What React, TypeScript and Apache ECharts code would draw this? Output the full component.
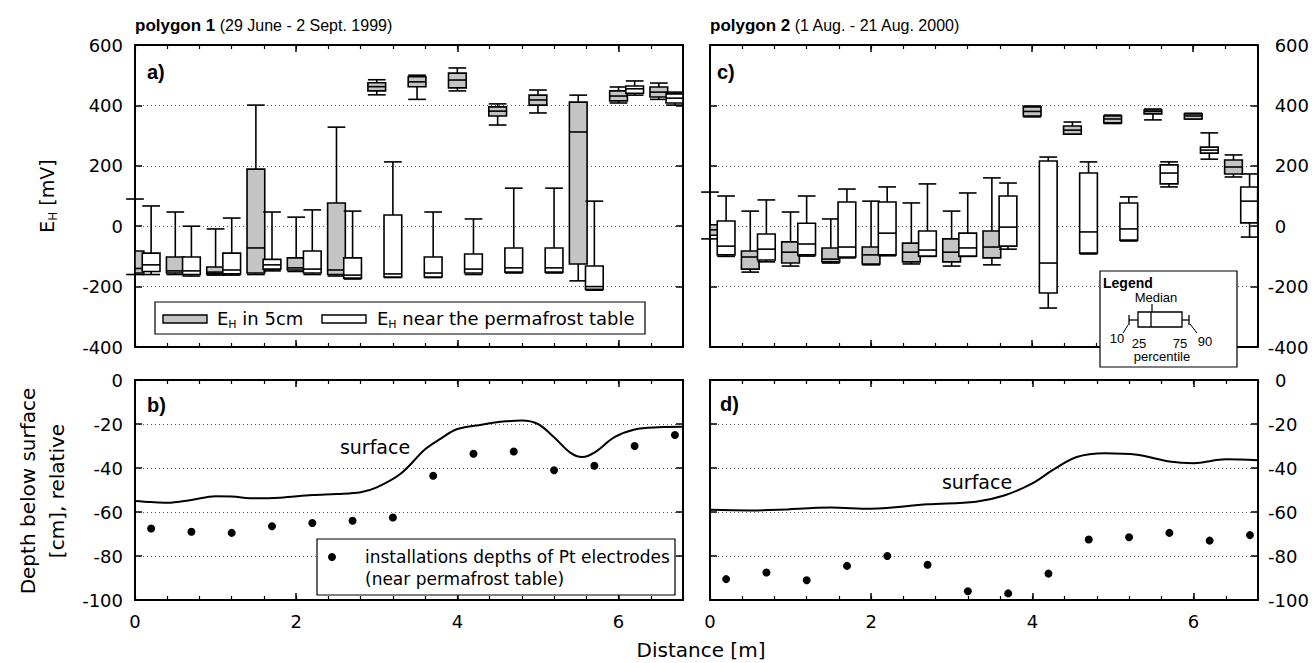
import React, { useEffect, useRef } from 'react';
import * as echarts from 'echarts';

const SANS = '"DejaVu Sans", sans-serif';
const ARIAL = '"Liberation Sans", Arial, sans-serif';

// ---------- Panel a: polygon 1, E_H (mV) boxes: 10 / 25 / 50 / 75 / 90 percentiles ----------
const aShallowPos = [0, 0.5, 1.0, 1.5, 2.0, 2.5, 3.0, 3.5, 4.0, 4.5, 5.0, 5.5, 6.0, 6.5];
const aShallowP10 = [-160, -160, -162, -160, -150, -165, 435, 420, 448, 335, 375, -181, 408, 420];
const aShallowP25 = [-155, -155, -158, -155, -145, -160, 448, 462, 458, 365, 401, -125, 415, 428];
const aShallowP50 = [-140, -148, -152, -72, -138, -145, 462, 478, 484, 381, 418, 312, 431, 444];
const aShallowP75 = [-82, -102, -135, 189, -105, 77, 475, 495, 507, 395, 434, 411, 448, 461];
const aShallowP90 = [90, 47, -9, 401, 30, 328, 485, 500, 524, 405, 451, 434, 461, 474];

const aDeepPos = [0.2, 0.7, 1.2, 1.7, 2.2, 2.7, 3.2, 3.7, 4.2, 4.7, 5.2, 5.7, 6.2, 6.7];
const aDeepP10 = [-160, -165, -162, -148, -160, -175, -170, -170, -160, -155, -155, -212, 434, 401];
const aDeepP25 = [-150, -160, -158, -142, -155, -172, -168, -168, -155, -152, -152, -209, 440, 408];
const aDeepP50 = [-128, -148, -145, -128, -142, -162, -158, -155, -142, -138, -138, -200, 455, 424];
const aDeepP75 = [-89, -102, -89, -110, -82, -105, 37, -102, -92, -72, -72, -132, 464, 438];
const aDeepP90 = [67, 0, 27, 47, 54, 50, 213, 47, 24, 126, 126, 83, 481, 444];

// ---------- Panel c: polygon 2 ----------
const cShallowPos = [0, 0.5, 1.0, 1.5, 2.0, 2.5, 3.0, 3.5, 4.0, 4.5, 5.0, 5.5, 6.0, 6.5];
const cShallowP10 = [-42, -152, -132, -122, -128, -125, -132, -128, 362, 305, 340, 352, 355, 163];
const cShallowP25 = [-30, -142, -122, -118, -125, -118, -118, -105, 365, 305, 342, 372, 355, 173];
const cShallowP50 = [-12, -102, -86, -109, -95, -86, -86, -69, 380, 318, 355, 380, 365, 196];
const cShallowP75 = [5, -82, -52, -72, -69, -56, -42, -16, 395, 332, 365, 385, 372, 219];
const cShallowP90 = [113, 50, 47, 24, 83, 77, 50, 160, 398, 345, 368, 388, 374, 236];

const cDeepPos = [0.2, 0.7, 1.2, 1.7, 2.2, 2.7, 3.2, 3.7, 4.2, 4.7, 5.2, 5.7, 6.2, 6.7];
const cDeepP10 = [-100, -118, -99, -105, -98, -100, -100, -76, -271, -92, -49, 130, 222, -36];
const cDeepP25 = [-95, -112, -95, -102, -95, -99, -99, -66, -221, -89, -46, 140, 242, 11];
const cDeepP50 = [-66, -76, -59, -69, -23, -79, -72, -3, -122, -19, -9, 176, 252, 83];
const cDeepP75 = [17, -26, 10, 80, 80, -16, -23, 100, 216, 176, 77, 203, 262, 130];
const cDeepP90 = [100, 87, 100, 123, 130, 140, 110, 143, 229, 213, 97, 213, 309, 173];

// ---------- Panel b: polygon 1 depth profile ----------
const bSurfaceX = [0, 0.2, 0.4, 0.7, 1.0, 1.2, 1.5, 1.8, 2.2, 2.5, 2.8, 3.0, 3.3, 3.6, 3.8, 4.0, 4.3, 4.6, 4.8, 5.0, 5.2, 5.4, 5.55, 5.7, 5.95, 6.2, 6.5, 6.8];
const bSurfaceDepth = [-55, -55.5, -55.8, -54.5, -52.8, -53, -53.8, -53.5, -52.3, -51.8, -51, -48.8, -42.5, -31.5, -26.5, -22.3, -20.3, -18.8, -18.4, -20, -26, -33, -35, -33, -26, -22.5, -21.5, -21.3];
const bElectrodeX = [0.2, 0.7, 1.2, 1.7, 2.2, 2.7, 3.2, 3.7, 4.2, 4.7, 5.2, 5.7, 6.2, 6.7];
const bElectrodeDepth = [-67.5, -69, -69.5, -66.5, -65, -64, -62.5, -43.5, -33.5, -32.5, -41, -39, -30, -25];

// ---------- Panel d: polygon 2 depth profile ----------
const dSurfaceX = [0, 0.5, 0.85, 1.5, 2.0, 2.7, 3.3, 3.65, 4.0, 4.25, 4.55, 4.9, 5.3, 5.7, 6.0, 6.4, 6.8];
const dSurfaceDepth = [-59, -59.3, -59, -58, -58.5, -56.5, -55.3, -52.5, -47, -41, -35, -33.3, -34, -37, -37.8, -36, -36.5];
const dElectrodeX = [0.2, 0.7, 1.2, 1.7, 2.2, 2.7, 3.2, 3.7, 4.2, 4.7, 5.2, 5.7, 6.2, 6.7];
const dElectrodeDepth = [-90.5, -87.5, -91, -84.5, -80, -84, -96, -97, -88, -72.5, -71.5, -69.5, -73, -70.5];

// tick labels
const distanceTicks = [0, 2, 4, 6];
const ehTicks = [-400, -200, 0, 200, 400, 600];
const depthTicks = [-100, -80, -60, -40, -20, 0];

const BOX_WIDTH = 0.22; // metres
const GREY = '#c4c4c4';

const zipBox = (pos: number[], a: number[], b: number[], c: number[], d: number[], e: number[]) =>
  pos.map((x, i) => [x, a[i], b[i], c[i], d[i], e[i]]);
const zip2 = (x: number[], y: number[]) => x.map((v, i) => [v, y[i]]);

const renderBox = (fill: string) => (params: any, api: any) => {
  const x = api.value(0);
  const lo = api.coord([x, api.value(1)]);
  const q1 = api.coord([x, api.value(2)]);
  const md = api.coord([x, api.value(3)]);
  const q3 = api.coord([x, api.value(4)]);
  const hi = api.coord([x, api.value(5)]);
  const w = api.size([BOX_WIDTH, 0])[0];
  const cx = lo[0];
  const cs = params.coordSys;
  const left = cx - w / 2;
  const right = cx + w / 2;
  const bl = Math.max(left, cs.x);
  const br = Math.min(right, cs.x + cs.width);
  const st = { stroke: '#000', lineWidth: 1.6 };
  return {
    type: 'group',
    children: [
      { type: 'line', shape: { x1: cx, y1: hi[1], x2: cx, y2: q3[1] }, style: st },
      { type: 'line', shape: { x1: cx, y1: q1[1], x2: cx, y2: lo[1] }, style: st },
      { type: 'line', shape: { x1: left, y1: hi[1], x2: right, y2: hi[1] }, style: st },
      { type: 'line', shape: { x1: left, y1: lo[1], x2: right, y2: lo[1] }, style: st },
      { type: 'rect', shape: { x: bl, y: q3[1], width: br - bl, height: q1[1] - q3[1] }, style: { fill, stroke: '#000', lineWidth: 1.6 } },
      { type: 'line', shape: { x1: bl, y1: md[1], x2: br, y2: md[1] }, style: st },
    ],
  };
};

const axisLineStyle = { color: '#000', width: 2 };
const tickStyle = { color: '#000', width: 1.5 };

function xAxes(gi: number, labels: boolean) {
  const common = { type: 'value', gridIndex: gi, min: 0, max: 6.8, splitLine: { show: false } };
  const major = (position: string, show: boolean) => ({
    ...common,
    position,
    interval: 2,
    axisLine: { show: true, onZero: false, lineStyle: axisLineStyle },
    axisTick: { show: true, inside: true, length: 7, lineStyle: tickStyle },
    axisLabel: {
      show,
      margin: 12,
      fontSize: 18,
      fontFamily: SANS,
      color: '#000',
      showMaxLabel: false,
      formatter: (v: number) => (distanceTicks.indexOf(v) >= 0 ? String(v) : ''),
    },
  });
  const minor = (position: string) => ({
    ...common,
    position,
    interval: 0.4,
    axisLine: { show: false, onZero: false },
    axisTick: { show: true, inside: true, length: 4, lineStyle: { color: '#000', width: 1.2 } },
    axisLabel: { show: false },
  });
  return [major('bottom', labels), minor('bottom'), major('top', false), minor('top')];
}

function yAxes(gi: number, ticks: number[], interval: number, side: 'left' | 'right') {
  const common = { type: 'value', gridIndex: gi, min: ticks[0], max: ticks[ticks.length - 1], interval };
  return [
    {
      ...common,
      position: 'left',
      axisLine: { show: true, onZero: false, lineStyle: axisLineStyle },
      axisTick: { show: true, inside: true, length: 7, lineStyle: tickStyle },
      axisLabel: { show: side === 'left', margin: 12, fontSize: 18, fontFamily: SANS, color: '#000' },
      splitLine: { show: true, lineStyle: { color: '#555', type: [1, 3], width: 1 } },
    },
    {
      ...common,
      position: 'right',
      axisLine: { show: true, onZero: false, lineStyle: axisLineStyle },
      axisTick: { show: true, inside: true, length: 7, lineStyle: tickStyle },
      axisLabel: {
        show: side === 'right',
        margin: 10,
        fontSize: 18,
        fontFamily: SANS,
        color: '#000',
        formatter: (v: number) => (v < 0 ? `{n|${v}}` : `{p|${v}}`),
        rich: {
          n: { fontSize: 18, fontFamily: SANS, color: '#000' },
          p: { fontSize: 18, fontFamily: SANS, color: '#000', padding: [0, 0, 0, 7] },
        },
      },
      splitLine: { show: false },
    },
  ];
}

const txt = (x: number, y: number, text: string, extra: any = {}, rotation = 0) => ({
  type: 'text',
  x,
  y,
  rotation,
  z: 100,
  style: {
    text,
    fill: '#000',
    fontFamily: SANS,
    fontSize: 18,
    align: 'left',
    textAlign: 'left',
    verticalAlign: 'middle',
    textVerticalAlign: 'middle',
    ...extra,
  },
});
const ln = (x1: number, y1: number, x2: number, y2: number, w = 1.2) => ({
  type: 'line',
  z: 100,
  shape: { x1, y1, x2, y2 },
  style: { stroke: '#000', lineWidth: w },
});
const rc = (x: number, y: number, width: number, height: number, fill: string, w = 1.2) => ({
  type: 'rect',
  z: 100,
  shape: { x, y, width, height },
  style: { fill, stroke: '#000', lineWidth: w },
});

const subRich = {
  e: { fontSize: 18, fontFamily: SANS, lineHeight: 24, fill: '#000', color: '#000' },
  h: { fontSize: 11, fontFamily: SANS, lineHeight: 12, verticalAlign: 'bottom', fill: '#000', color: '#000' },
};

export default function App() {
  const ref = useRef<HTMLDivElement>(null);
  useEffect(() => {
    document.body.style.margin = '0';
    const chart = echarts.init(ref.current!, null, { renderer: 'svg' });
    const option: any = {
      animation: false,
      backgroundColor: '#fff',
      grid: [
        { left: 135, top: 45, width: 548, height: 302 },
        { left: 135, top: 380, width: 548, height: 220 },
        { left: 710, top: 45, width: 548, height: 302 },
        { left: 710, top: 380, width: 548, height: 220 },
      ],
      xAxis: [...xAxes(0, false), ...xAxes(1, true), ...xAxes(2, false), ...xAxes(3, true)],
      yAxis: [
        ...yAxes(0, ehTicks, 200, 'left'),
        ...yAxes(1, depthTicks, 20, 'left'),
        ...yAxes(2, ehTicks, 200, 'right'),
        ...yAxes(3, depthTicks, 20, 'right'),
      ],
      series: [
        {
          type: 'custom', name: 'polygon 1 EH in 5cm', xAxisIndex: 0, yAxisIndex: 0, clip: false, z: 3,
          encode: { x: 0, y: [1, 2, 3, 4, 5] },
          data: zipBox(aShallowPos, aShallowP10, aShallowP25, aShallowP50, aShallowP75, aShallowP90),
          renderItem: renderBox(GREY),
        },
        {
          type: 'custom', name: 'polygon 1 EH near the permafrost table', xAxisIndex: 0, yAxisIndex: 0, clip: false, z: 3,
          encode: { x: 0, y: [1, 2, 3, 4, 5] },
          data: zipBox(aDeepPos, aDeepP10, aDeepP25, aDeepP50, aDeepP75, aDeepP90),
          renderItem: renderBox('#fff'),
        },
        {
          type: 'custom', name: 'polygon 2 EH in 5cm', xAxisIndex: 8, yAxisIndex: 4, clip: false, z: 3,
          encode: { x: 0, y: [1, 2, 3, 4, 5] },
          data: zipBox(cShallowPos, cShallowP10, cShallowP25, cShallowP50, cShallowP75, cShallowP90),
          renderItem: renderBox(GREY),
        },
        {
          type: 'custom', name: 'polygon 2 EH near the permafrost table', xAxisIndex: 8, yAxisIndex: 4, clip: false, z: 3,
          encode: { x: 0, y: [1, 2, 3, 4, 5] },
          data: zipBox(cDeepPos, cDeepP10, cDeepP25, cDeepP50, cDeepP75, cDeepP90),
          renderItem: renderBox('#fff'),
        },
        {
          type: 'line', name: 'surface 1', xAxisIndex: 4, yAxisIndex: 2, smooth: 0.35, symbol: 'none',
          lineStyle: { color: '#000', width: 2 }, data: zip2(bSurfaceX, bSurfaceDepth),
        },
        {
          type: 'scatter', name: 'electrodes 1', xAxisIndex: 4, yAxisIndex: 2, symbolSize: 8,
          itemStyle: { color: '#000', opacity: 1 }, data: zip2(bElectrodeX, bElectrodeDepth),
        },
        {
          type: 'line', name: 'surface 2', xAxisIndex: 12, yAxisIndex: 6, smooth: 0.35, symbol: 'none',
          lineStyle: { color: '#000', width: 2 }, data: zip2(dSurfaceX, dSurfaceDepth),
        },
        {
          type: 'scatter', name: 'electrodes 2', xAxisIndex: 12, yAxisIndex: 6, symbolSize: 8,
          itemStyle: { color: '#000', opacity: 1 }, data: zip2(dElectrodeX, dElectrodeDepth),
        },
      ],
      graphic: [
        // titles
        txt(135, 25, '{b|polygon 1} (29 June - 2 Sept. 1999)', {
          fontFamily: ARIAL, fontSize: 16,
          rich: { b: { fontFamily: ARIAL, fontSize: 17, fontWeight: 'bold' } },
        }),
        txt(710, 25, '{b|polygon 2} (1 Aug. - 21 Aug. 2000)', {
          fontFamily: ARIAL, fontSize: 16,
          rich: { b: { fontFamily: ARIAL, fontSize: 17, fontWeight: 'bold' } },
        }),
        // panel letters
        txt(147, 72, 'a)', { fontFamily: ARIAL, fontSize: 20, fontWeight: 'bold' }),
        txt(147, 405, 'b)', { fontFamily: ARIAL, fontSize: 20, fontWeight: 'bold' }),
        txt(717, 72, 'c)', { fontFamily: ARIAL, fontSize: 20, fontWeight: 'bold' }),
        txt(720, 404, 'd)', { fontFamily: ARIAL, fontSize: 20, fontWeight: 'bold' }),
        // axis names
        txt(47, 196, '{e|E}{h|H}{e| [mV]}', {
          align: 'center', textAlign: 'center',
          rich: { e: { ...subRich.e, fontSize: 19 }, h: { ...subRich.h, fontSize: 12 } },
        }, Math.PI / 2),
        txt(42, 491, 'Depth below surface\n[cm], relative', {
          align: 'center', textAlign: 'center', fontSize: 20, lineHeight: 29,
        }, Math.PI / 2),
        txt(701, 650, 'Distance [m]', { align: 'center', textAlign: 'center', fontSize: 20 }),
        // surface labels
        txt(375, 447, 'surface', { align: 'center', textAlign: 'center', fontSize: 19 }),
        txt(977, 482, 'surface', { align: 'center', textAlign: 'center', fontSize: 19 }),
        // legend panel a
        rc(155, 302, 490, 32, '#fff'),
        rc(163, 315, 44, 8, GREY, 1.4),
        txt(217, 318, '{e|E}{h|H}{e| in 5cm}', { rich: subRich }),
        rc(322, 315, 44, 8, '#fff', 1.4),
        txt(377, 318, '{e|E}{h|H}{e| near the permafrost table}', { rich: subRich }),
        // legend panel b
        rc(317, 539, 358, 56, '#fff'),
        { type: 'circle', z: 100, shape: { cx: 332, cy: 557, r: 4 }, style: { fill: '#000' } },
        txt(365, 557, 'installations depths of Pt electrodes', { fontSize: 17 }),
        txt(365, 579, '(near permafrost table)', { fontSize: 17 }),
        // legend panel c
        rc(1100, 271, 137, 96, '#fff'),
        txt(1103, 283, 'Legend', { fontFamily: ARIAL, fontSize: 14, fontWeight: 'bold' }),
        txt(1156, 297, 'Median', { fontFamily: ARIAL, fontSize: 13, align: 'center', textAlign: 'center' }),
        ln(1152, 304, 1152, 312),
        rc(1138, 312, 44, 15, 'none', 1.3),
        ln(1151, 312, 1151, 327, 1.3),
        ln(1129, 320, 1138, 320, 1.3),
        ln(1129, 315, 1129, 325, 1.3),
        ln(1182, 320, 1189, 320, 1.3),
        ln(1189, 315, 1189, 325, 1.3),
        ln(1123, 333, 1128, 325, 1),
        ln(1190, 324, 1197, 333, 1),
        txt(1117, 338, '10', { fontFamily: ARIAL, fontSize: 13, align: 'center', textAlign: 'center' }),
        txt(1139, 343, '25', { fontFamily: ARIAL, fontSize: 13, align: 'center', textAlign: 'center' }),
        txt(1180, 343, '75', { fontFamily: ARIAL, fontSize: 13, align: 'center', textAlign: 'center' }),
        txt(1205, 341, '90', { fontFamily: ARIAL, fontSize: 13, align: 'center', textAlign: 'center' }),
        txt(1162, 356, 'percentile', { fontFamily: ARIAL, fontSize: 13, align: 'center', textAlign: 'center' }),
      ],
    };
    chart.setOption(option);
    return () => chart.dispose();
  }, []);
  return <div ref={ref} style={{ width: 1312, height: 663 }} />;
}
